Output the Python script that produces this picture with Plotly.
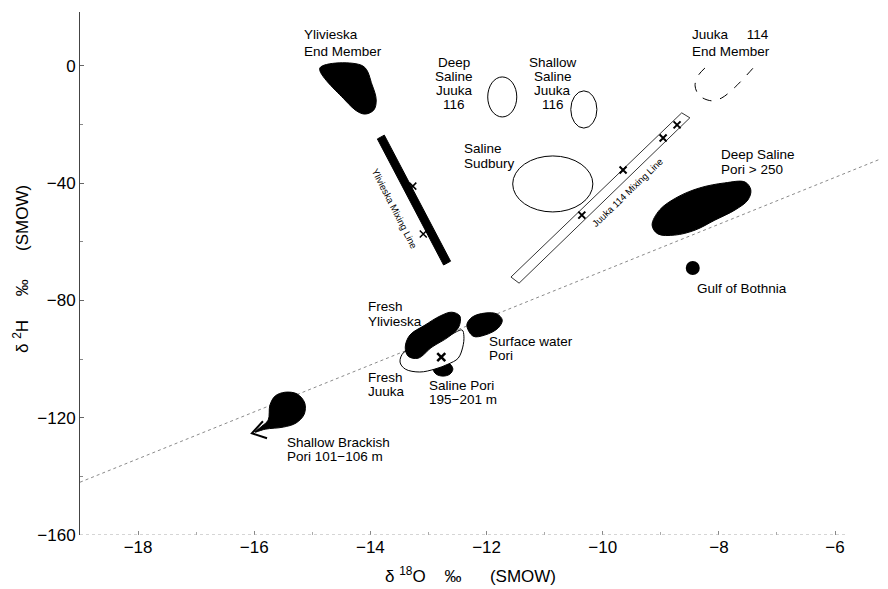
import plotly.graph_objects as go

# ---------------- data ----------------
x_tickvals = [-18, -16, -14, -12, -10, -8, -6]
y_tickvals = [0, -40, -80, -120, -160]

# global meteoric water line
gmwl_x = [-19.0, -5.15]
gmwl_y = [-142.0, -31.2]

# filled (black) bodies
ylivieska_end_x = [-14.87, -14.13, -13.97, -13.90, -13.94, -14.08, -14.21, -14.44, -14.87]
ylivieska_end_y = [-0.7, 0.0, -6.5, -11.6, -15.0, -16.4, -15.7, -11.6, -0.7]

ylivieska_mix_x = [-13.88, -13.76, -12.62, -12.74, -13.88]
ylivieska_mix_y = [-24.9, -23.6, -66.6, -67.9, -24.9]
ylivieska_pts_x = [-13.27, -13.09]
ylivieska_pts_y = [-41.0, -57.3]

deep_pori_x = [-9.15, -9.02, -8.71, -8.33, -7.90, -7.55, -7.45, -7.50, -7.72, -8.07, -8.41, -8.76, -9.05, -9.15]
deep_pori_y = [-54.3, -49.1, -44.7, -41.6, -39.9, -39.6, -42.3, -45.7, -49.1, -52.6, -56.0, -57.7, -57.3, -54.3]

gulf_x = [-8.45]
gulf_y = [-68.9]

saline_pori_x = [-12.92, -12.87, -12.75, -12.63, -12.58, -12.63, -12.75, -12.87, -12.92]
saline_pori_y = [-103.4, -105.1, -105.8, -105.1, -103.4, -101.7, -101.0, -101.7, -103.4]

fresh_juuka_x = [-13.42, -13.49, -13.40, -13.15, -12.89, -12.66, -12.49, -12.41, -12.39, -12.42, -12.60, -13.00, -13.42]
fresh_juuka_y = [-97.6, -101.0, -103.4, -104.4, -103.4, -101.7, -99.7, -95.9, -92.2, -90.1, -91.5, -95.5, -97.6]
fresh_juuka_pt_x = [-12.78]
fresh_juuka_pt_y = [-99.3]

fresh_yliv_x = [-13.40, -13.32, -13.06, -12.80, -12.60, -12.46, -12.48, -12.66, -12.94, -13.18, -13.35, -13.40]
fresh_yliv_y = [-95.9, -91.8, -88.4, -85.3, -84.0, -85.3, -89.1, -92.5, -95.9, -99.7, -99.0, -95.9]

surface_pori_x = [-12.34, -12.25, -12.03, -11.82, -11.73, -11.80, -12.03, -12.23, -12.34]
surface_pori_y = [-88.4, -85.7, -84.3, -84.6, -86.7, -89.4, -91.8, -92.2, -88.4]

brackish_x = [-15.73, -15.64, -15.47, -15.26, -15.13, -15.14, -15.28, -15.50, -15.81, -15.99, -15.87, -15.76, -15.73]
brackish_y = [-115.7, -112.6, -111.3, -111.9, -115.0, -118.8, -121.8, -123.2, -123.9, -124.9, -122.9, -120.8, -115.7]
arrow_x = [-15.85, -16.04, -15.78]
arrow_y = [-121.2, -125.3, -127.0]

# open outlines (ellipses): Deep Saline Juuka 116, Shallow Saline Juuka 116, Saline Sudbury
ellipse_x0 = [-11.98, -10.55, -11.55]
ellipse_x1 = [-11.48, -10.10, -10.17]
ellipse_y0 = [-17.4, -21.2, -49.8]
ellipse_y1 = [-3.75, -8.5, -30.7]

# Juuka 114 end member (dashed open curve)
juuka_end_x = [-8.24, -8.36, -8.41, -8.33, -8.12, -7.95, -7.72, -7.41]
juuka_end_y = [-0.7, -3.4, -6.8, -10.2, -11.9, -10.9, -7.2, -0.7]

# Juuka 114 mixing band (two parallel lines + end caps)
juuka_band_x = [-11.58, -8.64, -8.50, -11.44, -11.58]
juuka_band_y = [-72.0, -16.0, -17.7, -74.1, -72.0]
juuka_pts_x = [-10.36, -9.65, -8.96, -8.72]
juuka_pts_y = [-50.9, -35.5, -24.6, -20.1]

# text labels (lines separated by <br>)
label_text = [
    "Ylivieska<br>End Member",
    "Deep<br>Saline<br>Juuka<br>116",
    "Shallow<br>Saline<br>Juuka<br>116",
    "Saline<br>Sudbury",
    "Juuka\u00a0\u00a0\u00a0\u00a0\u00a0114<br>End Member",
    "Deep Saline<br>Pori > 250",
    "Gulf of Bothnia",
    "Fresh<br>Ylivieska",
    "Surface water<br>Pori",
    "Fresh<br>Juuka",
    "Saline Pori<br>195\u2212201 m",
    "Shallow Brackish<br>Pori 101\u2212106 m",
]
label_x = [-15.16, -12.56, -10.86, -12.41, -8.48, -7.98, -8.40, -14.06, -11.98, -14.06, -13.01, -15.45]
label_y = [7.85, -6.0, -6.0, -30.7, 7.85, -32.8, -75.8, -84.5, -96.4, -108.7, -111.4, -130.9]
label_anchor = ["left", "center", "center", "left", "left", "left", "left", "left", "left", "left", "left", "left"]
label_line_gap = [17, 14.3, 14.3, 14.2, 17, 15, 14, 15, 14.2, 14.2, 14.2, 14.2]

line_label_text = ["Ylivieska Mixing Line", "Juuka 114 Mixing Line"]
line_label_x = [-13.58, -9.58]
line_label_y = [-48.5, -43.0]
line_label_angle = [63, -44]

FONT = "Liberation Sans, Arial, Helvetica, sans-serif"
NB = "\u00a0"

fig = go.Figure()

# meteoric water line
fig.add_trace(go.Scatter(x=gmwl_x, y=gmwl_y, mode="lines",
                         line=dict(color="#8a8a8a", width=1, dash="dot"),
                         hoverinfo="skip", showlegend=False, cliponaxis=False))


def blob(x, y, smooth=True):
    fig.add_trace(go.Scatter(
        x=x, y=y, mode="lines", fill="toself", fillcolor="black",
        line=dict(color="black", width=1, shape="spline" if smooth else "linear"),
        hoverinfo="skip", showlegend=False))


blob(ylivieska_end_x, ylivieska_end_y)
blob(ylivieska_mix_x, ylivieska_mix_y, smooth=False)
blob(deep_pori_x, deep_pori_y)
blob(saline_pori_x, saline_pori_y)

# Fresh Juuka (white with outline)
fig.add_trace(go.Scatter(
    x=fresh_juuka_x, y=fresh_juuka_y, mode="lines", fill="toself", fillcolor="white",
    line=dict(color="black", width=1, shape="spline"),
    hoverinfo="skip", showlegend=False))

blob(fresh_yliv_x, fresh_yliv_y)
blob(surface_pori_x, surface_pori_y)
blob(brackish_x, brackish_y)

# arrow head for brackish
fig.add_trace(go.Scatter(x=arrow_x, y=arrow_y, mode="lines",
                         line=dict(color="black", width=2),
                         hoverinfo="skip", showlegend=False))

# Gulf of Bothnia
fig.add_trace(go.Scatter(x=gulf_x, y=gulf_y, mode="markers",
                         marker=dict(color="black", size=14),
                         hoverinfo="skip", showlegend=False))

# Juuka end member dashed
fig.add_trace(go.Scatter(x=juuka_end_x, y=juuka_end_y, mode="lines",
                         line=dict(color="black", width=1, dash="dash", shape="spline"),
                         hoverinfo="skip", showlegend=False))

# Juuka mixing band
fig.add_trace(go.Scatter(x=juuka_band_x, y=juuka_band_y, mode="lines",
                         line=dict(color="black", width=0.8),
                         hoverinfo="skip", showlegend=False))

# sample crosses
fig.add_trace(go.Scatter(x=juuka_pts_x, y=juuka_pts_y, mode="markers",
                         marker=dict(symbol="x-thin", size=7, line=dict(color="black", width=2)),
                         hoverinfo="skip", showlegend=False))
fig.add_trace(go.Scatter(x=ylivieska_pts_x, y=ylivieska_pts_y, mode="markers",
                         marker=dict(symbol="x-thin", size=7, line=dict(color="black", width=1.5)),
                         hoverinfo="skip", showlegend=False))
fig.add_trace(go.Scatter(x=fresh_juuka_pt_x, y=fresh_juuka_pt_y, mode="markers",
                         marker=dict(symbol="x-thin", size=8, line=dict(color="black", width=2.5)),
                         hoverinfo="skip", showlegend=False))

# open ellipses
for x0, x1, y0, y1 in zip(ellipse_x0, ellipse_x1, ellipse_y0, ellipse_y1):
    fig.add_shape(type="circle", xref="x", yref="y", x0=x0, x1=x1, y0=y0, y1=y1,
                  line=dict(color="black", width=1))

# faint x axis line
fig.add_shape(type="line", xref="x", yref="y", x0=-19.0, x1=-5.8, y0=-160, y1=-160,
              line=dict(color="#aaa", width=1, dash="dot"))

# labels: each line placed separately so the line spacing matches the figure
for t, x, y, a, gap in zip(label_text, label_x, label_y, label_anchor, label_line_gap):
    lines = t.split("<br>")
    n = len(lines)
    for i, ln in enumerate(lines):
        fig.add_annotation(x=x, y=y, xref="x", yref="y", text=ln, showarrow=False,
                           xanchor=a, yanchor="middle", align=a, borderpad=0,
                           yshift=((n - 1) / 2 - i) * gap,
                           font=dict(family=FONT, size=13.5, color="black"))

for t, x, y, ang in zip(line_label_text, line_label_x, line_label_y, line_label_angle):
    fig.add_annotation(x=x, y=y, xref="x", yref="y", text=t, showarrow=False,
                       textangle=ang, xanchor="center", yanchor="middle",
                       font=dict(family=FONT, size=9.5, color="black"))

# axis titles
fig.add_annotation(x=-13.78, y=-160, xref="x", yref="y", yshift=-27,
                   text="\u03b4 <sup>18</sup>O" + NB * 4 + "\u2030" + NB * 6 + "(SMOW)",
                   showarrow=False, xanchor="left", yanchor="top",
                   font=dict(family=FONT, size=17, color="black"))
fig.add_annotation(x=-19.0, y=-98.6, xref="x", yref="y", xshift=-59,
                   text="\u03b4 <sup>2</sup>H" + NB * 5 + "\u2030" + NB * 6 + "(SMOW)",
                   showarrow=False, textangle=-90, xanchor="center", yanchor="bottom",
                   font=dict(family=FONT, size=17, color="black"))

# the page body has an 8px margin: figure is 880x581 placed at (8, 8)
fig.update_layout(
    width=880, height=581, autosize=False,
    margin=dict(l=72, r=3, t=4, b=54),
    plot_bgcolor="white", paper_bgcolor="white",
    showlegend=False,
    font=dict(family=FONT, size=17, color="black"),
    xaxis=dict(range=[-19.0, -5.14], tickvals=x_tickvals,
               ticktext=["\u221218", "\u221216", "\u221214", "\u221212", "\u221210", "\u22128", "\u22126"],
               showgrid=False, zeroline=False, showline=False,
               ticks="inside", ticklen=4, tickcolor="#888",
               minor=dict(dtick=1, ticks="inside", ticklen=3, tickcolor="#aaa"),
               tickfont=dict(family=FONT, size=17)),
    yaxis=dict(range=[-160, 18.4], tickvals=y_tickvals,
               ticktext=["0", "\u221240", "\u221280", "\u2212120", "\u2212160"],
               showgrid=False, zeroline=False, showline=True, linecolor="#444", linewidth=1,
               ticks="inside", ticklen=4, tickcolor="#666",
               minor=dict(dtick=20, ticks="inside", ticklen=3, tickcolor="#888"),
               tickfont=dict(family=FONT, size=17)),
)

fig.write_html("out.html")
